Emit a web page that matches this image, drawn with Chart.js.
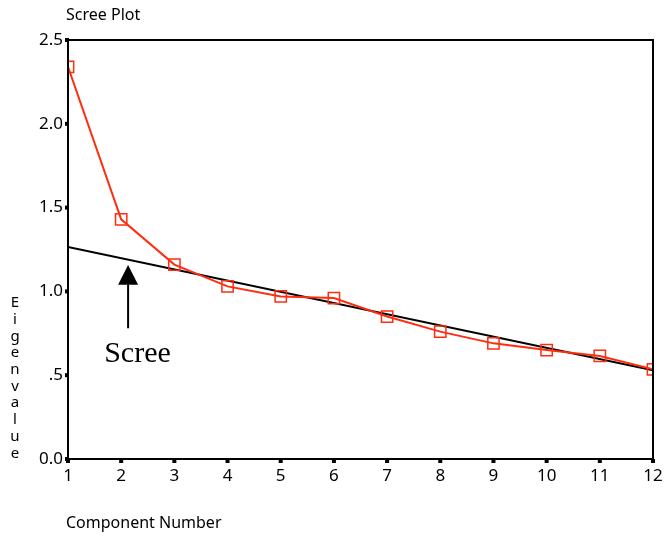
<!DOCTYPE html>
<html>
<head>
<meta charset="utf-8">
<script src="https://cdn.jsdelivr.net/npm/chart.js@4/dist/chart.umd.min.js"></script>
<style>
  html, body { margin: 0; padding: 0; background: #fff; }
  canvas { display: block; }
</style>
</head>
<body>
<canvas id="screeChart" width="664" height="538"></canvas>
<script>
// component numbers and eigenvalues
const components = [1, 2, 3, 4, 5, 6, 7, 8, 9, 10, 11, 12];
const eigenvalues = [2.34, 1.43, 1.16, 1.03, 0.97, 0.96, 0.85, 0.76, 0.69, 0.65, 0.615, 0.535];
// straight line fitted through the scree (end points)
const screeLineX = [1, 12];
const screeLineY = [1.265, 0.53];
const yTicks = [0, 0.5, 1.0, 1.5, 2.0, 2.5];

const red = '#ff2d0f';
const font = "'Noto Sans', 'Open Sans', sans-serif";

// extra drawing: frame, tick squares, titles, arrow + "Scree" label
const decorations = {
    id: 'decorations',
    afterDraw(chart) {
        const { ctx, chartArea: a, scales } = chart;
        const xs = scales.x, ys = scales.y;
        ctx.save();

        // frame
        ctx.strokeStyle = '#000';
        ctx.lineWidth = 2;
        ctx.strokeRect(a.left, a.top, a.right - a.left, a.bottom - a.top);

        // small square tick marks
        ctx.fillStyle = '#000';
        yTicks.forEach(v => {
            ctx.fillRect(a.left - 3, ys.getPixelForValue(v) - 2, 4, 4);
        });
        components.forEach(c => {
            ctx.fillRect(xs.getPixelForValue(c) - 2, a.bottom, 4, 4);
        });

        // titles
        ctx.font = '16px ' + font;
        ctx.textBaseline = 'middle';
        ctx.textAlign = 'left';
        ctx.fillText('Scree Plot', 66, 15);
        ctx.fillText('Component Number', 66, 523);
        ctx.font = '15px ' + font;
        ctx.textAlign = 'center';
        'Eigenvalue'.split('').forEach((ch, i) => {
            ctx.fillText(ch, 15, 303 + i * 16.7);
        });

        // arrow pointing at the scree line
        const ax = xs.getPixelForValue(2.13);
        const tip = ys.getPixelForValue(1.157);
        const base = ys.getPixelForValue(1.04);
        const tail = ys.getPixelForValue(0.78);
        ctx.lineWidth = 2;
        ctx.beginPath();
        ctx.moveTo(ax, base);
        ctx.lineTo(ax, tail);
        ctx.stroke();
        ctx.beginPath();
        ctx.moveTo(ax, tip);
        ctx.lineTo(ax - 10, base);
        ctx.lineTo(ax + 10, base);
        ctx.closePath();
        ctx.fill();

        ctx.font = "30px 'Liberation Serif', 'Times New Roman', serif";
        ctx.textAlign = 'left';
        ctx.textBaseline = 'alphabetic';
        ctx.fillText('Scree', xs.getPixelForValue(1.68), ys.getPixelForValue(0.579));

        ctx.restore();
    }
};

const ctx = document.getElementById('screeChart').getContext('2d');
const screeChart = new Chart(ctx, {
    type: 'line',
    data: {
        datasets: [
            {
                label: 'Eigenvalue',
                data: components.map((c, i) => ({ x: c, y: eigenvalues[i] })),
                borderColor: red,
                borderWidth: 2,
                pointStyle: 'rect',
                pointRadius: 8,
                pointBorderColor: red,
                pointBorderWidth: 1.5,
                pointBackgroundColor: 'rgba(0,0,0,0)',
                tension: 0,
                order: 1
            },
            {
                label: 'Scree line',
                data: screeLineX.map((c, i) => ({ x: c, y: screeLineY[i] })),
                borderColor: '#000',
                borderWidth: 2,
                pointRadius: 0,
                tension: 0,
                order: 2
            }
        ]
    },
    options: {
        responsive: false,
        animation: false,
        layout: {
            padding: { left: 0, right: 11, top: 40, bottom: 0 }
        },
        plugins: {
            legend: { display: false },
            tooltip: { enabled: false },
            title: { display: false }
        },
        scales: {
            x: {
                type: 'linear',
                min: 1,
                max: 12,
                afterFit(scale) {
                    scale.height = 79;
                    scale.paddingLeft = 0;
                    scale.paddingRight = 0;
                },
                afterBuildTicks(scale) {
                    scale.ticks = components.map(v => ({ value: v }));
                },
                grid: { display: false, drawTicks: false },
                border: { display: false },
                ticks: {
                    color: '#000',
                    padding: 7,
                    maxRotation: 0,
                    autoSkip: false,
                    font: { family: font, size: 17 }
                }
            },
            y: {
                min: 0,
                max: 2.5,
                afterFit(scale) {
                    scale.width = 68;
                    scale.paddingTop = 0;
                    scale.paddingBottom = 0;
                },
                afterBuildTicks(scale) {
                    scale.ticks = yTicks.map(v => ({ value: v }));
                },
                grid: { display: false, drawTicks: false },
                border: { display: false },
                ticks: {
                    color: '#000',
                    padding: 5,
                    font: { family: font, size: 17 },
                    callback: v => (v === 0.5 ? '.5' : v.toFixed(1))
                }
            }
        }
    },
    plugins: [decorations]
});
</script>
</body>
</html>
